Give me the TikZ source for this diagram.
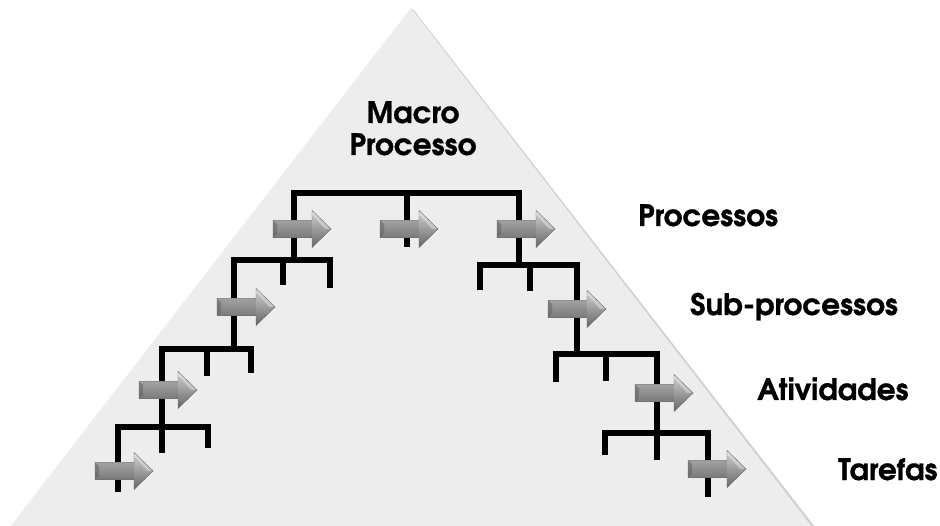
\documentclass[tikz,border=0pt]{standalone}
\usepackage{fontspec}
\setmainfont{texgyreadventor}[Extension=.otf,UprightFont=*-regular,BoldFont=*-bold,ItalicFont=*-italic,BoldItalicFont=*-bolditalic,BoldFeatures={FakeBold=0.8}]
\definecolor{tri}{HTML}{EDEDED}
\definecolor{shA}{HTML}{A2A2A2}
\definecolor{shB}{HTML}{EEEEEE}
\definecolor{shC}{HTML}{7A7A7A}
\definecolor{hdA}{HTML}{D2D2D2}
\definecolor{hdC}{HTML}{666666}
\tikzset{
  tree/.style={line width=5.5pt, line join=miter, line cap=butt, black},
  lbl/.style={font=\bfseries\fontsize{29.5}{32}\selectfont, anchor=base west, inner sep=0pt},
}
\newcommand\grayarrow[2]{%
  \begin{scope}[shift={(#1,#2)}]
    \shade[top color=shA, middle color=shB, bottom color=shC] (0,-8.5) rectangle (39.5,8.5);
    \shade[top color=hdA, bottom color=hdC] (39,-18.5) -- (58,0) -- (39,18.5) -- cycle;
    \fill[gray!70!black, opacity=.45] (0,-8.5) -- (4,-5) -- (4,5) -- (0,8.5) -- cycle;
    \fill[white, opacity=.35] (41,-13) -- (52,0) -- (58,0) -- (39,-18.5) -- (39,-13) -- cycle;
    \draw[gray!80!black, line width=.4pt, line join=miter]
      (0,-8.5) -- (39,-8.5) -- (39,-18.5) -- (58,0) -- (39,18.5) -- (39,8.5) -- (0,8.5) -- cycle;
  \end{scope}}
\begin{document}
\begin{tikzpicture}[x=1pt,y=-1pt]
\useasboundingbox (0,0) rectangle (940,526);
\fill[white] (0,0) rectangle (940,526);
% pyramid with soft shadow
\fill[black, opacity=.18] (413,9) -- (815,527) -- (12,527) -- cycle;
\fill[tri] (411,8) -- (812,527) -- (10,527) -- cycle;

% tree coordinates
\coordinate (t1l) at (294,193); \coordinate (t1r) at (519,193);
\coordinate (t1m) at (407,193); \coordinate (t1me) at (407,247);
% level 2 left
\coordinate (a2l) at (234,260); \coordinate (b2l) at (330,260);
\coordinate (j2l) at (294,260); \coordinate (m2l) at (283,260);
% level 2 right
\coordinate (a2r) at (480,265); \coordinate (b2r) at (577,265);
\coordinate (j2r) at (519,265); \coordinate (m2r) at (530,265);
% level 3 left
\coordinate (a3l) at (162,349); \coordinate (b3l) at (251,349);
\coordinate (j3l) at (234,349); \coordinate (m3l) at (207,349);
% level 3 right
\coordinate (a3r) at (556,354); \coordinate (b3r) at (657,354);
\coordinate (j3r) at (577,354); \coordinate (m3r) at (606,354);
% level 4 left
\coordinate (a4l) at (118,427); \coordinate (b4l) at (208,427);
\coordinate (j4l) at (162,427);
% level 4 right
\coordinate (a4r) at (605,433); \coordinate (b4r) at (708,433);
\coordinate (j4r) at (657,433);

% top bar
\draw[tree] (j2l) -- (t1l) -- (t1r) -- (j2r);
\draw[tree] (t1m) -- (t1me);
% level 2 left
\draw[tree] (j3l) -- (a2l) -- (b2l) -- ([yshift=-28pt]b2l);
\draw[tree] (m2l) -- ([yshift=-25pt]m2l);
% level 2 right
\draw[tree] ([yshift=-25pt]a2r) -- (a2r) -- (b2r) -- (j3r);
\draw[tree] (m2r) -- ([yshift=-26pt]m2r);
% level 3 left
\draw[tree] ([yshift=-26pt]j4l) -- (a3l) -- (b3l) -- ([yshift=-24pt]b3l);
\draw[tree] (m3l) -- ([yshift=-27pt]m3l);
% level 3 right
\draw[tree] ([yshift=-28pt]a3r) -- (a3r) -- (b3r) -- ([yshift=-27pt]j4r);
\draw[tree] (m3r) -- ([yshift=-27pt]m3r);
% level 4 left
\draw[tree] ([yshift=-65pt]a4l) -- (a4l) -- (b4l) -- ([yshift=-21pt]b4l);
% level 4 right
\draw[tree] ([yshift=-22pt]a4r) -- (a4r) -- (b4r) -- ([yshift=-64pt]b4r);

% arrows
\grayarrow{273}{229}
\grayarrow{380}{229}
\grayarrow{497}{229}
\grayarrow{217}{307}
\grayarrow{548}{309}
\grayarrow{139}{390}
\grayarrow{635}{393}
\grayarrow{95}{471}
\grayarrow{688}{469}

% labels
\node[font=\bfseries\fontsize{29.5}{32}\selectfont, align=center, inner sep=0pt, anchor=base] (macro) at (413,155) {Macro\\Processo};
\node[lbl] (proc) at (638,226) {Processos};
\node[lbl] (sub) at (690,315) {Sub-processos};
\node[lbl] (ativ) at (757,400) {Atividades};
\node[lbl] (tar) at (838,480) {Tarefas};
\end{tikzpicture}
\end{document}
